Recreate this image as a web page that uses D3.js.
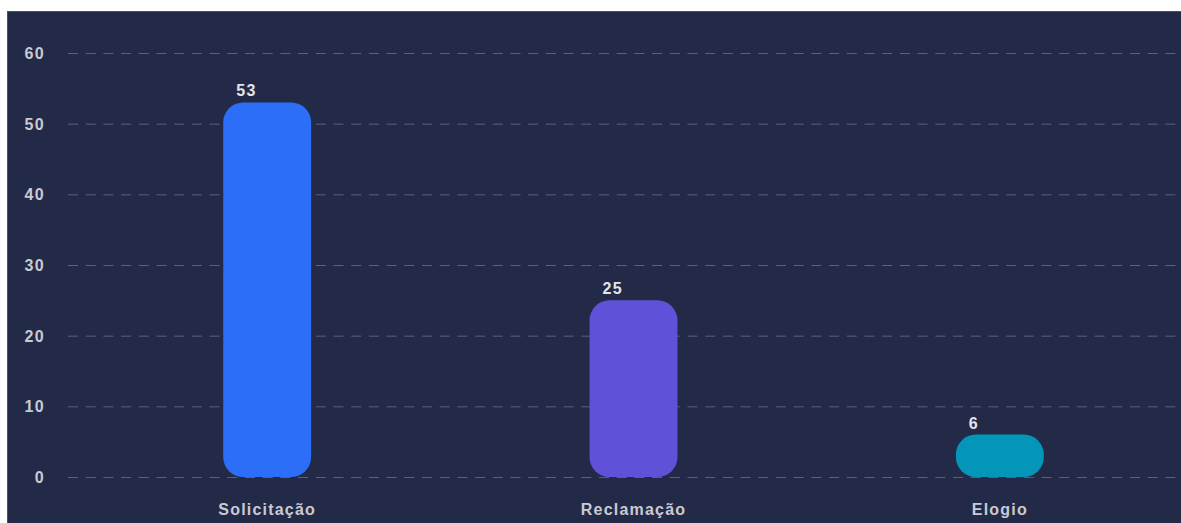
<!DOCTYPE html>
<html>
<head>
<meta charset="utf-8">
<script src="https://cdn.jsdelivr.net/npm/d3@7"></script>
<style>
  html, body { margin: 0; padding: 0; background: #ffffff; }
  svg { display: block; }
</style>
</head>
<body>
<div id="container"></div>
<script>
/* CONSTANTS AND GLOBALS */
const width = 1181,
  height = 523,
  margin = { top: 53, bottom: 46, left: 84, right: -2 };

// DATA
const categories = ["Solicitação", "Reclamação", "Elogio"];
const values = [53, 25, 6];
const colors = ["#2c6ef8", "#5f51d8", "#0396b9"];
const yTicks = [0, 10, 20, 30, 40, 50, 60];

const svg = d3.select("#container")
  .append("svg")
  .attr("width", width)
  .attr("height", height);

// panel background
svg.append("rect")
  .attr("x", 7)
  .attr("y", 11)
  .attr("width", width - 7)
  .attr("height", height - 11)
  .attr("fill", "#232a48");
svg.append("path")
  .attr("d", `M7.5,${height} V11.5 H${width}`)
  .attr("fill", "none")
  .attr("stroke", "#4a5068")
  .attr("stroke-width", 1);

// SCALES
const xScale = d3.scaleBand()
  .domain(categories)
  .range([margin.left, width - margin.right])
  .paddingInner(0.76)
  .paddingOuter(0.38);

const yScale = d3.scaleLinear()
  .domain([0, 60])
  .range([height - margin.bottom, margin.top]);

// GRID
svg.append("g")
  .selectAll("line")
  .data(yTicks)
  .join("line")
  .attr("x1", 68)
  .attr("x2", width)
  .attr("y1", d => yScale(d) + 0.5)
  .attr("y2", d => yScale(d) + 0.5)
  .attr("stroke", "#596081")
  .attr("stroke-width", 1)
  .attr("stroke-dasharray", "10,7.7");

// Y AXIS LABELS
const yAxis = d3.axisLeft(yScale)
  .tickValues(yTicks)
  .tickSize(0)
  .tickPadding(0);
const yAxisGroup = svg.append("g")
  .attr("transform", `translate(45, 0)`)
  .call(yAxis);
yAxisGroup.select(".domain").remove();
yAxisGroup.selectAll("text")
  .attr("fill", "#c9cad3")
  .attr("font-family", "Liberation Sans, Arial, sans-serif")
  .attr("font-weight", "bold")
  .attr("font-size", 16)
  .attr("letter-spacing", "1.3px")
  .attr("dy", "0.35em");

// X AXIS LABELS
const xAxis = d3.axisBottom(xScale).tickSize(0).tickPadding(0);
const xAxisGroup = svg.append("g")
  .attr("transform", `translate(0, 509)`)
  .call(xAxis);
xAxisGroup.select(".domain").remove();
xAxisGroup.selectAll("text")
  .attr("fill", "#c9cad3")
  .attr("font-family", "Liberation Sans, Arial, sans-serif")
  .attr("font-weight", "bold")
  .attr("font-size", 16)
  .attr("letter-spacing", "1.2px")
  .attr("dy", "0.35em");

// BARS
const data = categories.map((c, i) => ({ cat: c, value: values[i], color: colors[i] }));

svg.selectAll(".bar")
  .data(data)
  .join("rect")
  .attr("class", "bar")
  .attr("x", d => xScale(d.cat))
  .attr("y", d => yScale(d.value))
  .attr("width", xScale.bandwidth())
  .attr("height", d => yScale(0) - yScale(d.value))
  .attr("rx", 20)
  .attr("ry", 20)
  .attr("fill", d => d.color);

// VALUE LABELS
svg.selectAll(".val")
  .data(data)
  .join("text")
  .attr("class", "val")
  .attr("x", d => xScale(d.cat) + 13)
  .attr("y", d => yScale(d.value) - 6)
  .attr("fill", "#e4e4ea")
  .attr("font-family", "Liberation Sans, Arial, sans-serif")
  .attr("font-weight", "bold")
  .attr("font-size", 16)
  .attr("letter-spacing", "1.3px")
  .text(d => d.value);
</script>
</body>
</html>
